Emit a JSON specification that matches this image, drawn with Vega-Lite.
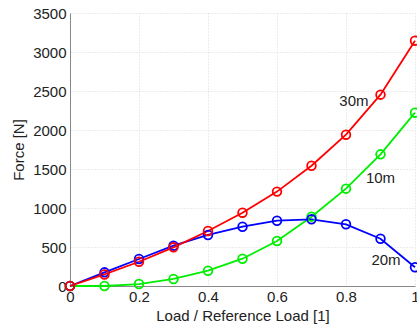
{
  "$schema": "https://vega.github.io/schema/vega-lite/v6.json",
  "autosize": "none",
  "padding": {"left": 70, "top": 13, "right": 2, "bottom": 45},
  "width": 345,
  "height": 273,
  "config": {
    "view": {"stroke": null},
    "font": "Liberation Sans",
    "axis": {
      "labelFont": "Liberation Sans",
      "titleFont": "Liberation Sans",
      "labelFontSize": 15,
      "titleFontSize": 15,
      "titleFontWeight": "normal",
      "labelColor": "#222",
      "titleColor": "#222",
      "domainColor": "#888",
      "gridColor": "#d8d8d8",
      "gridDash": [1, 2],
      "ticks": false
    }
  },
  "datasets": {
    "series": [
      {"load": 0.0, "force": 0, "cable": "10m"},
      {"load": 0.1, "force": 0, "cable": "10m"},
      {"load": 0.2, "force": 25, "cable": "10m"},
      {"load": 0.3, "force": 90, "cable": "10m"},
      {"load": 0.4, "force": 196, "cable": "10m"},
      {"load": 0.5, "force": 350, "cable": "10m"},
      {"load": 0.6, "force": 577, "cable": "10m"},
      {"load": 0.7, "force": 889, "cable": "10m"},
      {"load": 0.8, "force": 1248, "cable": "10m"},
      {"load": 0.9, "force": 1688, "cable": "10m"},
      {"load": 1.0, "force": 2222, "cable": "10m"},
      {"load": 0.0, "force": 0, "cable": "20m"},
      {"load": 0.1, "force": 175, "cable": "20m"},
      {"load": 0.2, "force": 346, "cable": "20m"},
      {"load": 0.3, "force": 517, "cable": "20m"},
      {"load": 0.4, "force": 654, "cable": "20m"},
      {"load": 0.5, "force": 760, "cable": "20m"},
      {"load": 0.6, "force": 837, "cable": "20m"},
      {"load": 0.7, "force": 855, "cable": "20m"},
      {"load": 0.8, "force": 791, "cable": "20m"},
      {"load": 0.9, "force": 606, "cable": "20m"},
      {"load": 1.0, "force": 240, "cable": "20m"},
      {"load": 0.0, "force": 0, "cable": "30m"},
      {"load": 0.1, "force": 148, "cable": "30m"},
      {"load": 0.2, "force": 311, "cable": "30m"},
      {"load": 0.3, "force": 496, "cable": "30m"},
      {"load": 0.4, "force": 705, "cable": "30m"},
      {"load": 0.5, "force": 940, "cable": "30m"},
      {"load": 0.6, "force": 1210, "cable": "30m"},
      {"load": 0.7, "force": 1542, "cable": "30m"},
      {"load": 0.8, "force": 1940, "cable": "30m"},
      {"load": 0.9, "force": 2453, "cable": "30m"},
      {"load": 1.0, "force": 3145, "cable": "30m"}
    ],
    "labels": [
      {"load": 0.823, "force": 2372, "text": "30m"},
      {"load": 0.9, "force": 1385, "text": "10m"},
      {"load": 0.916, "force": 333, "text": "20m"}
    ]
  },
  "encoding": {
    "x": {
      "field": "load", "type": "quantitative",
      "scale": {"domain": [0, 1], "nice": false},
      "axis": {"values": [0, 0.2, 0.4, 0.6, 0.8, 1], "format": "~g", "title": "Load / Reference Load [1]", "labelPadding": 3, "titlePadding": 4, "labelFlush": false}
    },
    "y": {
      "field": "force", "type": "quantitative",
      "scale": {"domain": [0, 3500], "nice": false},
      "axis": {"values": [0, 500, 1000, 1500, 2000, 2500, 3000, 3500], "format": "d", "title": "Force [N]", "labelPadding": 4, "titlePadding": 6, "labelFlush": false}
    }
  },
  "layer": [
    {
      "data": {"name": "series"},
      "mark": {"type": "line", "strokeWidth": 1.8, "point": {"filled": false, "size": 75, "strokeWidth": 1.8}},
      "encoding": {
        "color": {
          "field": "cable", "type": "nominal",
          "scale": {"domain": ["10m", "20m", "30m"], "range": ["#00ee00", "#0000ff", "#ff0000"]},
          "legend": null
        },
        "order": {"field": "load", "type": "quantitative"}
      }
    },
    {
      "data": {"name": "labels"},
      "mark": {"type": "text", "fontSize": 15, "font": "Liberation Sans", "color": "#222", "align": "center", "baseline": "middle"},
      "encoding": {"text": {"field": "text"}}
    }
  ]
}
